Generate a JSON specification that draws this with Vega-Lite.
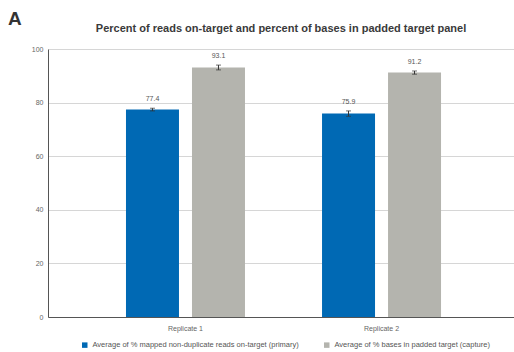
{
  "$schema": "https://vega.github.io/schema/vega-lite/v6.json",
  "padding": {"left": 8, "top": 10, "right": 0, "bottom": 0},
  "background": "white",
  "config": {
    "font": "Liberation Sans",
    "view": {"stroke": null},
    "concat": {"spacing": 0}
  },
  "title": {"text": "A", "anchor": "start", "frame": "bounds", "fontSize": 19, "fontWeight": "bold", "color": "#333333", "offset": -6},
  "data": {
    "values": [
      {"replicate": "Replicate 1", "metric": "Average of % mapped non-duplicate reads on-target (primary)", "value": 77.4, "lo": 76.9, "hi": 77.9},
      {"replicate": "Replicate 1", "metric": "Average of % bases in padded target (capture)", "value": 93.1, "lo": 92.2, "hi": 94.0},
      {"replicate": "Replicate 2", "metric": "Average of % mapped non-duplicate reads on-target (primary)", "value": 75.9, "lo": 74.9, "hi": 76.9},
      {"replicate": "Replicate 2", "metric": "Average of % bases in padded target (capture)", "value": 91.2, "lo": 90.6, "hi": 91.8}
    ]
  },
  "vconcat": [
    {
      "title": {"text": "Percent of reads on-target and percent of bases in padded target panel", "anchor": "middle", "fontSize": 11, "fontWeight": "bold", "color": "#3a3a3a", "offset": 11},
      "width": 466,
      "height": 268,
      "encoding": {
        "x": {
          "field": "replicate", "type": "nominal",
          "scale": {"paddingInner": 0.393, "paddingOuter": 0.385, "align": 0.5166},
          "axis": {"title": null, "labelAngle": 0, "labelFontSize": 7, "labelColor": "#666666", "ticks": false, "labelPadding": 7, "domainColor": "#555555", "domainWidth": 1, "grid": false}
        },
        "xOffset": {
          "field": "metric", "type": "nominal",
          "sort": ["Average of % mapped non-duplicate reads on-target (primary)", "Average of % bases in padded target (capture)"],
          "scale": {"paddingInner": 0.197, "paddingOuter": 0}
        },
        "y": {
          "field": "value", "type": "quantitative",
          "scale": {"domain": [0, 100], "nice": false},
          "axis": {"title": null, "tickCount": 10, "values": [0, 10, 20, 30, 40, 50, 60, 70, 80, 90, 100], "labelOverlap": false, "labelFontSize": 7, "labelColor": "#666666", "ticks": false, "labelPadding": 5, "minExtent": 40, "domainColor": "#555555", "gridColor": "#d6d6d6", "gridWidth": 1}
        }
      },
      "layer": [
        {
          "mark": {"type": "bar"},
          "encoding": {
            "color": {
              "field": "metric", "type": "nominal",
              "sort": ["Average of % mapped non-duplicate reads on-target (primary)", "Average of % bases in padded target (capture)"],
              "scale": {"range": ["#0069b4", "#b4b4ae"]},
              "legend": {"title": null, "orient": "none", "legendX": 33, "legendY": 292, "direction": "horizontal", "symbolType": "square", "symbolSize": 30, "symbolStrokeWidth": 0, "labelFontSize": 7.5, "labelColor": "#555555", "labelLimit": 400, "columnPadding": 24}
            }
          }
        },
        {
          "mark": {"type": "rule", "color": "#333333", "strokeWidth": 1},
          "encoding": {
            "y": {"field": "lo", "type": "quantitative", "axis": {"title": null, "tickCount": 10, "values": [0, 10, 20, 30, 40, 50, 60, 70, 80, 90, 100], "labelOverlap": false}},
            "y2": {"field": "hi"}
          }
        },
        {
          "mark": {"type": "tick", "color": "#333333", "size": 5, "thickness": 1},
          "encoding": {"y": {"field": "lo", "type": "quantitative", "axis": {"title": null, "tickCount": 10, "values": [0, 10, 20, 30, 40, 50, 60, 70, 80, 90, 100], "labelOverlap": false}}}
        },
        {
          "mark": {"type": "tick", "color": "#333333", "size": 5, "thickness": 1},
          "encoding": {"y": {"field": "hi", "type": "quantitative", "axis": {"title": null, "tickCount": 10, "values": [0, 10, 20, 30, 40, 50, 60, 70, 80, 90, 100], "labelOverlap": false}}}
        },
        {
          "mark": {"type": "text", "baseline": "bottom", "dy": -6, "fontSize": 7, "color": "#555555"},
          "encoding": {
            "y": {"field": "hi", "type": "quantitative", "axis": {"title": null, "tickCount": 10, "values": [0, 10, 20, 30, 40, 50, 60, 70, 80, 90, 100], "labelOverlap": false}},
            "text": {"field": "value", "type": "quantitative", "format": ".1f"}
          }
        }
      ]
    }
  ]
}
